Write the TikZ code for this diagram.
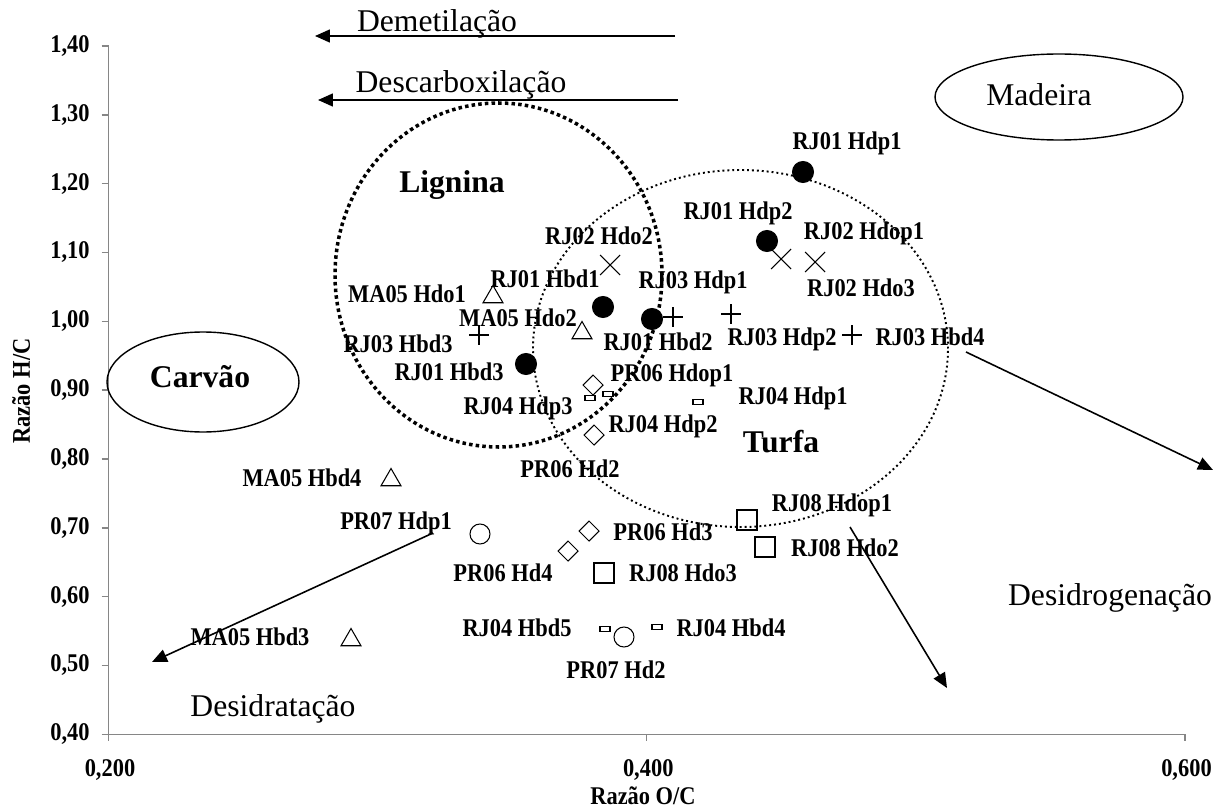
\documentclass[tikz,border=0pt]{standalone}
\usepackage{fontspec}
\setmainfont{Liberation Serif}
\newfontfamily\narrowfont[FakeStretch=0.88]{Liberation Serif}
\usetikzlibrary{arrows.meta, shapes.geometric, shapes.misc}
\newlength{\pxu}
\setlength{\pxu}{0.02cm}
\definecolor{axisgray}{RGB}{134, 134, 134}
\tikzset{
    lbl/.style={font=\narrowfont\fontsize{14.5}{16}\selectfont\bfseries, inner sep=0pt},
    big/.style={font=\fontsize{18}{20}\selectfont, inner sep=0pt},
    bigbold/.style={font=\fontsize{18}{20}\selectfont\bfseries, inner sep=0pt},
    mk/.style={draw, line width=0.6pt, inner sep=0pt, outer sep=0pt},
    mkdot/.style={mk, circle, fill=black, minimum size=21\pxu},
    mkring/.style={mk, circle, minimum size=20\pxu},
    mkx/.style={mk, cross out, minimum size=20\pxu},
    mkplus/.style={mk, cross out, rotate=45, minimum size=14\pxu},
    mktri/.style={mk, regular polygon, regular polygon sides=3, minimum size=23\pxu},
    mkdia/.style={mk, diamond, minimum width=20\pxu, minimum height=20\pxu},
    mksq/.style={mk, rectangle, minimum size=20\pxu},
    mkbar/.style={mk, rectangle, minimum width=10\pxu, minimum height=5\pxu},
    zone/.style={ellipse, draw, line width=0.8pt, inner sep=0pt},
    ligdots/.style={ellipse, draw, inner sep=0pt, line width=2pt, dash pattern=on 2pt off 1.8pt},
    turdots/.style={ellipse, draw, inner sep=0pt, line width=1.1pt, dash pattern=on 1.1pt off 1.7pt},
    arr/.style={-{Triangle[length=3mm, width=2.6mm]}, line width=0.9pt},
    ax/.style={axisgray, line width=0.8pt}
}

\begin{document}
\begin{tikzpicture}[x=0.02cm, y=-0.02cm]
    \useasboundingbox (0,0) rectangle (1228,811);

    % axes
    \coordinate (org) at (108.5,734.3);
    \coordinate (ytop) at (108.5,46);
    \coordinate (xend) at (1185,734.3);
    \draw[ax] (ytop)--(org)--(xend);
    \foreach \k/\t in {0/{1,40},1/{1,30},2/{1,20},3/{1,10},4/{1,00},5/{0,90},6/{0,80},7/{0,70},8/{0,60},9/{0,50},10/{0,40}}{
        \draw[ax] (101.5,46+68.83*\k)--(108.5,46+68.83*\k);
        \node[lbl, anchor=east] (ytick\k) at (90,46+68.83*\k) {\t};
    }
    \foreach \k/\t in {0/{0,200},1/{0,400},2/{0,600}}{
        \draw[ax] (108.5+538.25*\k,734.3)--(108.5+538.25*\k,741.3);
        \node[lbl] (xtick\k) at (110+538.25*\k,770) {\t};
    }
    \node[lbl] (xtitle) at (643,796) {Razão O/C};
    \node[lbl, rotate=90] (ytitle) at (21,391) {Razão H/C};

    % zones
    \node[ligdots, minimum width=327\pxu, minimum height=344\pxu] (lignina) at (498.5,275) {};
    \node[turdots, minimum width=415\pxu, minimum height=357\pxu] (turfa) at (740.5,348.5) {};
    \node[zone, minimum width=192\pxu, minimum height=100\pxu] (carvao) at (203,382) {};
    \node[zone, minimum width=248\pxu, minimum height=86\pxu] (madeira) at (1059,97) {};
    \node[bigbold] (lignina-t) at (452,185) {Lignina};
    \node[bigbold] (turfa-t) at (781,442) {Turfa};
    \node[bigbold] (carvao-t) at (200,377) {Carvão};
    \node[big] (madeira-t) at (1039,95) {Madeira};

    % process arrows
    \coordinate (demS) at (675,36);
    \coordinate (demE) at (315,36);
    \draw[arr] (demS)--(demE);
    \node[big, anchor=base] (dem-t) at (437,32) {Demetilação};
    \coordinate (desS) at (678,100);
    \coordinate (desE) at (318,100);
    \draw[arr] (desS)--(desE);
    \node[big, anchor=base] (des-t) at (461,93) {Descarboxilação};
    \coordinate (hidS) at (433,533);
    \coordinate (hidE) at (152,662);
    \draw[arr] (hidS)--(hidE);
    \node[big] (hid-t) at (273,709) {Desidratação};
    \coordinate (genS1) at (966,352);
    \coordinate (genE1) at (1213,470);
    \draw[arr] (genS1)--(genE1);
    \coordinate (genS2) at (850,527);
    \coordinate (genE2) at (947,688);
    \draw[arr] (genS2)--(genE2);
    \node[big] (gen-t) at (1110,598) {Desidrogenação};

    % RJ01
    \node[mkdot] (rj01hdp1) at (803,172) {};
    \node[lbl] (rj01hdp1-t) at (847,143) {RJ01 Hdp1};
    \node[mkdot] (rj01hdp2) at (767,241) {};
    \node[lbl] (rj01hdp2-t) at (738,213) {RJ01 Hdp2};
    \node[mkdot] (rj01hbd1) at (603,307) {};
    \node[lbl] (rj01hbd1-t) at (545,279) {RJ01 Hbd1};
    \node[mkdot] (rj01hbd2) at (652,319) {};
    \node[lbl] (rj01hbd2-t) at (658,342) {RJ01 Hbd2};
    \node[mkdot] (rj01hbd3) at (526,364) {};
    \node[lbl] (rj01hbd3-t) at (449,372) {RJ01 Hbd3};

    % RJ02
    \node[mkx] (rj02hdo2) at (610,265) {};
    \node[lbl] (rj02hdo2-t) at (599,236) {RJ02 Hdo2};
    \node[mkx] (rj02hdop1) at (781,259) {};
    \node[lbl] (rj02hdop1-t) at (864,233) {RJ02 Hdop1};
    \node[mkx] (rj02hdo3) at (815,262) {};
    \node[lbl] (rj02hdo3-t) at (861,288) {RJ02 Hdo3};

    % RJ03
    \node[mkplus] (rj03hbd3) at (479,335) {};
    \node[lbl] (rj03hbd3-t) at (398,344) {RJ03 Hbd3};
    \node[mkplus] (rj03hdp1) at (673,317) {};
    \node[lbl] (rj03hdp1-t) at (693,282) {RJ03 Hdp1};
    \node[mkplus] (rj03hdp2) at (731,314) {};
    \node[lbl] (rj03hdp2-t) at (782,339) {RJ03 Hdp2};
    \node[mkplus] (rj03hbd4) at (852,335) {};
    \node[lbl] (rj03hbd4-t) at (930,337) {RJ03 Hbd4};

    % MA05
    \node[mktri] (ma05hdo1) at (493,297) {};
    \node[lbl] (ma05hdo1-t) at (407,294) {MA05 Hdo1};
    \node[mktri] (ma05hdo2) at (582,333) {};
    \node[lbl] (ma05hdo2-t) at (518,318) {MA05 Hdo2};
    \node[mktri] (ma05hbd4) at (391,480) {};
    \node[lbl] (ma05hbd4-t) at (302,478) {MA05 Hbd4};
    \node[mktri] (ma05hbd3) at (351,640) {};
    \node[lbl] (ma05hbd3-t) at (250,637) {MA05 Hbd3};

    % PR06
    \node[mkdia] (pr06hdop1) at (593,385) {};
    \node[lbl] (pr06hdop1-t) at (672,375) {PR06 Hdop1};
    \node[mkdia] (pr06hd2) at (594,435) {};
    \node[lbl] (pr06hd2-t) at (570,469) {PR06 Hd2};
    \node[mkdia] (pr06hd3) at (589,531) {};
    \node[lbl] (pr06hd3-t) at (663,532) {PR06 Hd3};
    \node[mkdia] (pr06hd4) at (568,551) {};
    \node[lbl] (pr06hd4-t) at (503,573) {PR06 Hd4};

    % RJ04
    \node[mkbar] (rj04hdp3) at (590,398) {};
    \node[lbl] (rj04hdp3-t) at (518,408) {RJ04 Hdp3};
    \node[mkbar] (rj04hdp2) at (608,394) {};
    \node[lbl] (rj04hdp2-t) at (663,426) {RJ04 Hdp2};
    \node[mkbar] (rj04hdp1) at (698,402) {};
    \node[lbl] (rj04hdp1-t) at (793,398) {RJ04 Hdp1};
    \node[mkbar] (rj04hbd5) at (605,629) {};
    \node[lbl] (rj04hbd5-t) at (517,628) {RJ04 Hbd5};
    \node[mkbar] (rj04hbd4) at (657,627) {};
    \node[lbl] (rj04hbd4-t) at (731,628) {RJ04 Hbd4};

    % PR07
    \node[mkring] (pr07hdp1) at (480,534) {};
    \node[lbl] (pr07hdp1-t) at (396,523) {PR07 Hdp1};
    \node[mkring] (pr07hd2) at (624,637) {};
    \node[lbl] (pr07hd2-t) at (616,670) {PR07 Hd2};

    % RJ08
    \node[mksq] (rj08hdop1) at (747,520) {};
    \node[lbl] (rj08hdop1-t) at (832,505) {RJ08 Hdop1};
    \node[mksq] (rj08hdo2) at (765,547) {};
    \node[lbl] (rj08hdo2-t) at (845,548) {RJ08 Hdo2};
    \node[mksq] (rj08hdo3) at (604,573) {};
    \node[lbl] (rj08hdo3-t) at (683,573) {RJ08 Hdo3};
\end{tikzpicture}
\end{document}
